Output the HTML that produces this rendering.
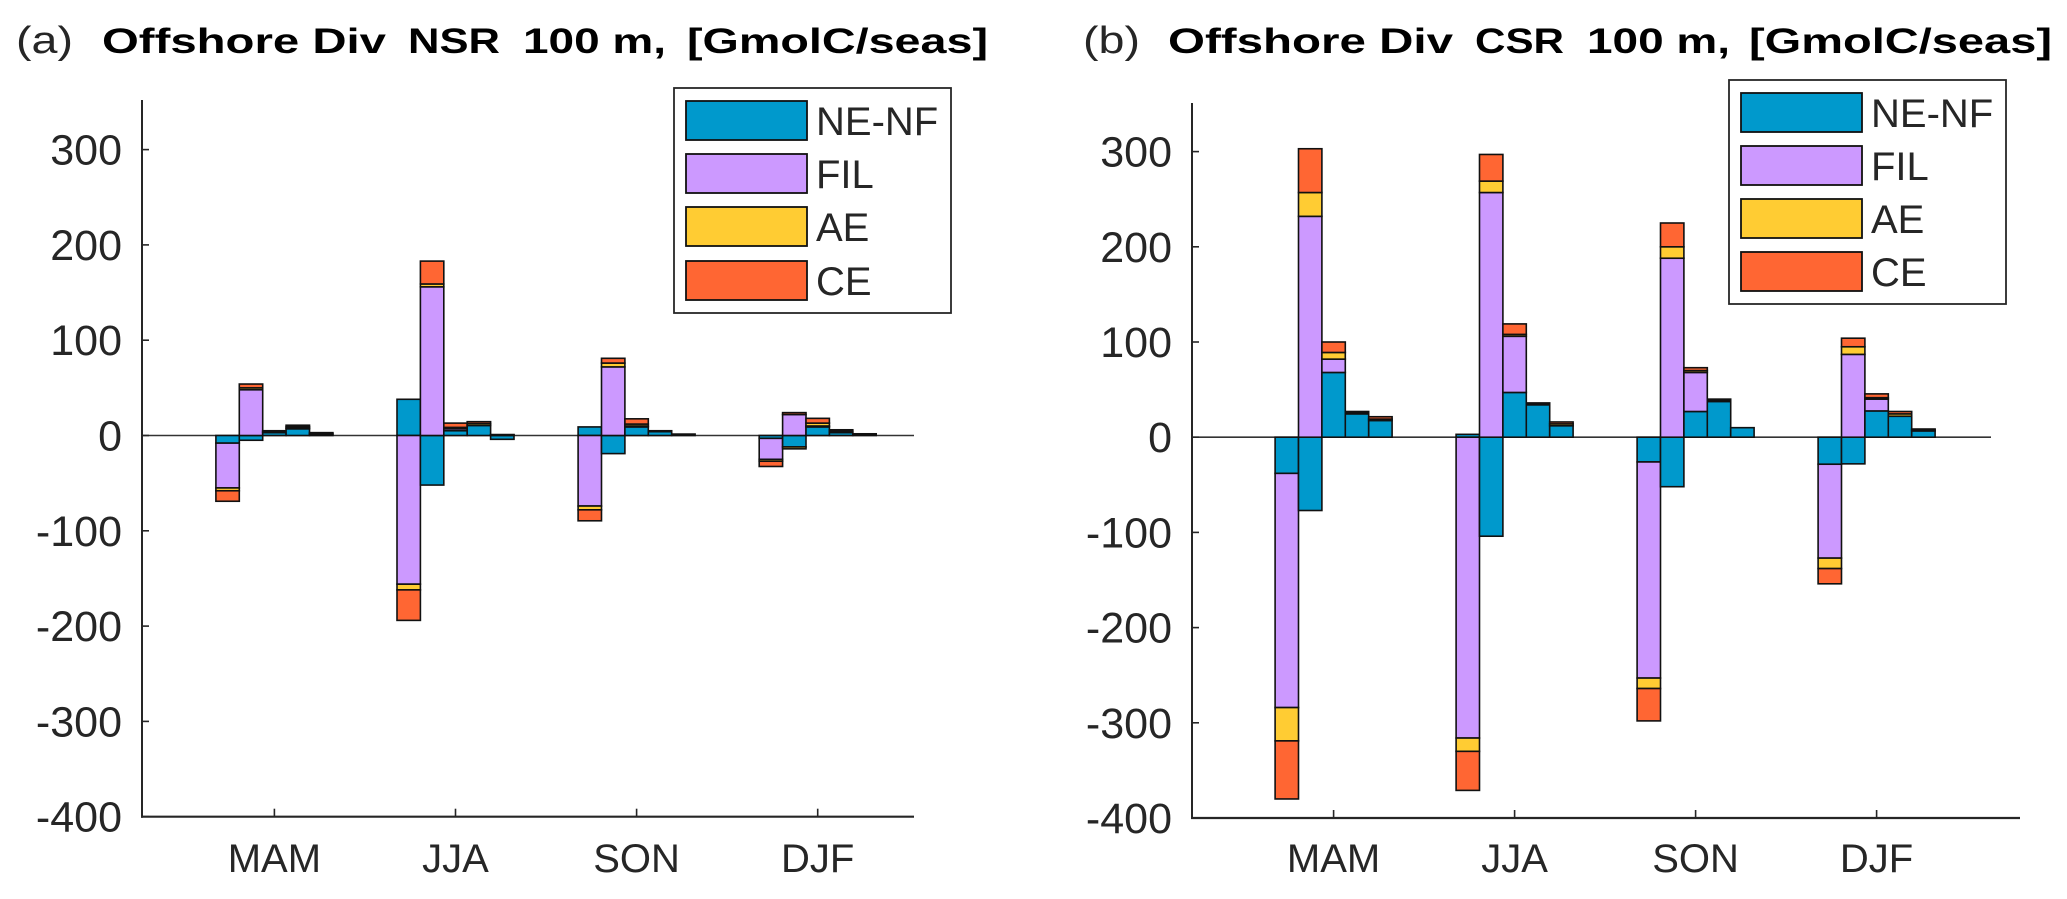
<!DOCTYPE html>
<html>
<head>
<meta charset="utf-8">
<style>
html,body{margin:0;padding:0;background:#fff;}
svg{display:block;}
text{font-family:"Liberation Sans","DejaVu Sans",sans-serif;fill:#262626;}
.tt{font-weight:bold;fill:#000;}
</style>
</head>
<body>
<svg id="chart" width="2067" height="899" viewBox="0 0 2067 899" xmlns="http://www.w3.org/2000/svg">
  <g>
    <text x="16" y="53" font-size="38" textLength="57" lengthAdjust="spacingAndGlyphs">(a)</text>
    <text class="tt" x="102" y="53" font-size="35" textLength="284" lengthAdjust="spacingAndGlyphs">Offshore Div</text>
    <text class="tt" x="408" y="53" font-size="35" textLength="92" lengthAdjust="spacingAndGlyphs">NSR</text>
    <text class="tt" x="523" y="53" font-size="35" textLength="143" lengthAdjust="spacingAndGlyphs">100 m,</text>
    <text class="tt" x="687" y="53" font-size="35" textLength="301" lengthAdjust="spacingAndGlyphs">[GmolC/seas]</text>
  </g>
  <g>
    <text x="1083" y="53" font-size="38" textLength="57" lengthAdjust="spacingAndGlyphs">(b)</text>
    <text class="tt" x="1168" y="53" font-size="35" textLength="285" lengthAdjust="spacingAndGlyphs">Offshore Div</text>
    <text class="tt" x="1475" y="53" font-size="35" textLength="89" lengthAdjust="spacingAndGlyphs">CSR</text>
    <text class="tt" x="1587" y="53" font-size="35" textLength="143" lengthAdjust="spacingAndGlyphs">100 m,</text>
    <text class="tt" x="1749" y="53" font-size="35" textLength="303" lengthAdjust="spacingAndGlyphs">[GmolC/seas]</text>
  </g>
</svg>
<script>
// ---- data ----
const categories = ["MAM", "JJA", "SON", "DJF"];
const seriesNames = ["NE-NF", "FIL", "AE", "CE"];
const yTicks = [-400, -300, -200, -100, 0, 100, 200, 300];
// Panel a (NSR): 5 bars per season
const nsrNE  = [-8, -5, 3, 7, 1,   38, -52, 5, 10.5, -4,   9, -19, 9, 4, 1.5,   -3, -12, 9, 3, 1];
const nsrFIL = [-47, 48, 0, 0.8, 0,   -156, 156, 2, 0, 0,   -74, 72, 1, 0, 0,   -22, 22, 1, 0, 0];
const nsrAE  = [-3, 2, 1, 1.5, 1,   -6, 3, 1.5, 2, 0.5,   -4, 4, 2, 0.5, 0,   -2, -2, 3, 1.5, 0.5];
const nsrCE  = [-11, 4, 1, 1.5, 1,   -32, 24, 4.5, 2, 0.5,   -11.5, 5, 5.5, 0.5, 0,   -5.5, 2, 5, 1.5, 0.3];
// Panel b (CSR)
const csrNE  = [-38, -77, 68, 24.5, 17.5,   3, -104, 47, 34, 12,   -26, -52, 27, 37.5, 10,   -28.4, -28, 27.6, 22, 6.6];
const csrFIL = [-246, 232, 14, 0, 0,   -316, 257, 59, 0, 0,   -227, 188, 41, 0, 0,   -98.6, 87, 12.4, 0, 0];
const csrAE  = [-35, 25, 7, 1.5, 1.5,   -14, 12, 2, 1, 2,   -11, 12, 2, 1, 0,   -11, 8, 1.5, 2.5, 1];
const csrCE  = [-61, 46, 11, 1, 2.5,   -41, 28, 11, 1, 2,   -34, 25, 3, 1.5, 0,   -16, 9, 4, 2.5, 1];

const colors = ["#0099cc", "#cc99ff", "#ffcc33", "#ff6633"];
const NS = "http://www.w3.org/2000/svg";
const svg = document.getElementById("chart");

function mk(tag, attrs, parent) {
  const e = document.createElementNS(NS, tag);
  for (const k in attrs) e.setAttribute(k, attrs[k]);
  (parent || svg).appendChild(e);
  return e;
}

function drawPanel(p) {
  const g = mk("g", {});
  
  
  const y = v => p.zeroY - v * p.pxPer;
  const xc = i => p.cat0 + p.catStep * i;
  const bw = 23.4;

  // zero line
  const zl = mk("line", {x1: p.axisX, x2: p.zeroEnd, y1: y(0), y2: y(0), stroke: "#333", "stroke-width": 1.6}, g);
  
  

  // bars
  const series = p.series;
  for (let c = 0; c < categories.length; c++) {
    for (let j = 0; j < 5; j++) {
      const idx = c * 5 + j;
      const x0 = xc(c) + (j - 2.5) * bw;
      let pos = 0, neg = 0;
      for (let s = 0; s < 4; s++) {
        const v = series[s][idx];
        if (!v) continue;
        let a, b;
        if (v > 0) { a = pos; b = pos + v; pos = b; } else { a = neg; b = neg + v; neg = b; }
        const yt = Math.min(y(a), y(b)), h = Math.abs(y(a) - y(b));
        const r = mk("rect", {x: x0, y: yt, width: bw, height: h, fill: colors[s], stroke: "#111", "stroke-width": 1.6}, g);
        
        
      }
    }
  }

  // axes
  const ya = mk("line", {x1: p.axisX, x2: p.axisX, y1: p.axisTop, y2: y(-400) + 1, stroke: "#262626", "stroke-width": 2}, g);
  
  
  const xa = mk("line", {x1: p.axisX - 1, x2: p.axisEnd, y1: y(-400), y2: y(-400), stroke: "#262626", "stroke-width": 2.2}, g);
  
  

  yTicks.forEach(t => {
    const tk = mk("line", {x1: p.axisX, x2: p.axisX + 7, y1: y(t), y2: y(t), stroke: "#262626", "stroke-width": 1.6}, g);
    
    
    const tl = mk("text", {x: p.axisX - 20, y: y(t) + 15, "font-size": 43, "text-anchor": "end"}, g);
    tl.textContent = String(t);
    
    
  });
  categories.forEach((cat, i) => {
    const tk = mk("line", {x1: xc(i), x2: xc(i), y1: y(-400), y2: y(-400) - 8, stroke: "#262626", "stroke-width": 1.6}, g);
    
    
    const tl = mk("text", {x: xc(i), y: 872, "font-size": 40, "text-anchor": "middle"}, g);
    tl.textContent = cat;
    
    
  });

  // legend
  const lg = mk("g", {}, g);
  
  
  const box = mk("rect", {x: p.lx, y: p.ly, width: 277, height: p.lh, fill: "#fff", stroke: "#262626", "stroke-width": 1.8}, lg);
  
  
  seriesNames.forEach((nm, s) => {
    const ry = p.rows[s];
    const sw = mk("rect", {x: p.lx + 12, y: ry, width: 121, height: 39, fill: colors[s], stroke: "#111", "stroke-width": 1.8}, lg);
    
    
    const lt = mk("text", {x: p.lx + 142, y: ry + 34, "font-size": 40}, lg);
    lt.textContent = nm;
    
    
  });
}

drawPanel({
  name: "panel-a-nsr", series: [nsrNE, nsrFIL, nsrAE, nsrCE],
  axisX: 142, axisEnd: 914, zeroEnd: 914, axisTop: 100, zeroY: 435.5, pxPer: 0.953,
  cat0: 274.4, catStep: 181.1,
  lx: 674, ly: 88, lh: 225, rows: [101, 154, 207, 261]
});
drawPanel({
  name: "panel-b-csr", series: [csrNE, csrFIL, csrAE, csrCE],
  axisX: 1192, axisEnd: 2020, zeroEnd: 1991, axisTop: 103, zeroY: 437.2, pxPer: 0.952,
  cat0: 1333.6, catStep: 181.0,
  lx: 1729, ly: 80, lh: 224, rows: [93, 146, 199, 252]
});
</script>
</body>
</html>
